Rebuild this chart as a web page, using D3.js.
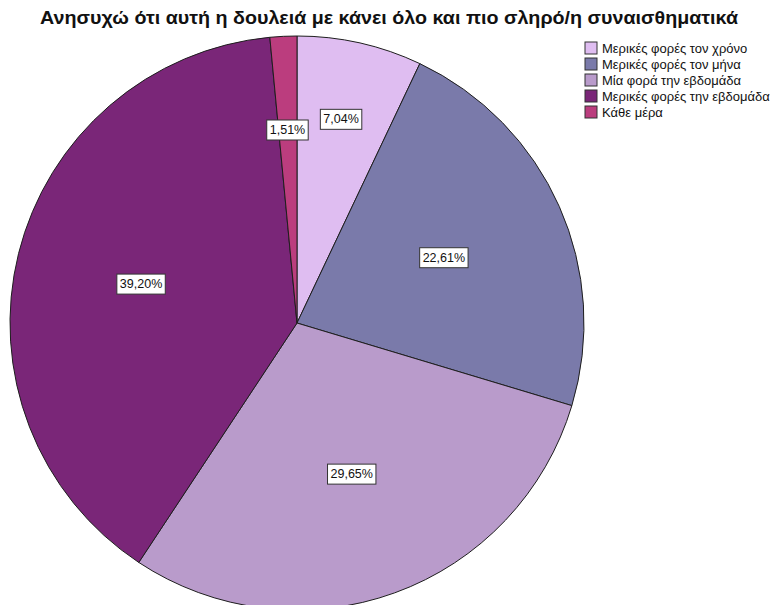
<!DOCTYPE html>
<html>
<head>
<meta charset="utf-8">
<script src="https://cdn.jsdelivr.net/npm/d3@7"></script>
<style>
  html, body { margin: 0; padding: 0; background: #fff; }
  svg { display: block; font-family: "Liberation Sans", Arial, sans-serif; }
</style>
</head>
<body>
<svg id="chart" width="775" height="605"></svg>
<script>
// Response categories, in drawing order (clockwise from 12 o'clock)
const categories = [
  "Μερικές φορές τον χρόνο",
  "Μερικές φορές τον μήνα",
  "Μία φορά την εβδομάδα",
  "Μερικές φορές την εβδομάδα",
  "Κάθε μέρα"
];
// Share of respondents, percent
const percents = [7.04, 22.61, 29.65, 39.20, 1.51];
const colors = ["#dfbdf1", "#7a7aaa", "#b99bcb", "#7a2678", "#bb3d7e"];
const title = "Ανησυχώ ότι αυτή η δουλειά με κάνει όλο και πιο σληρό/η συναισθηματικά";

const svg = d3.select("#chart");
const cx = 297, cy = 323, R = 287;

const data = categories.map((c, i) => ({ cat: c, value: percents[i], color: colors[i] }));

const pie = d3.pie().sort(null).value(d => d.value);
const arcs = pie(data);
const arc = d3.arc().innerRadius(0).outerRadius(R);

const g = svg.append("g").attr("transform", `translate(${cx},${cy})`);

g.selectAll("path.slice")
  .data(arcs)
  .join("path")
  .attr("class", "slice")
  .attr("d", arc)
  .attr("fill", d => d.data.color)
  .attr("stroke", "#1e1e1e")
  .attr("stroke-width", 1)
  .attr("stroke-linejoin", "round");

// Value labels: boxed, placed along each slice's bisector
const fmt = v => v.toFixed(2).replace(".", ",") + "%";
const labels = arcs.map(a => {
  const k = a.data.value < 10 ? 0.70 : 0.56;
  const la = d3.arc().innerRadius(R * k).outerRadius(R * k);
  const [x, y] = la.centroid(a);
  return { x, y, v: a.data.value, text: fmt(a.data.value) };
});

const lg = g.selectAll("g.lab").data(labels).join("g").attr("class", "lab");
lg.append("text")
  .attr("text-anchor", "middle")
  .attr("dominant-baseline", "central")
  .attr("font-size", 12.5)
  .attr("fill", "#111")
  .text(d => d.text);
lg.each(function (d) {
  const t = d3.select(this).select("text").node();
  d.w = t.getComputedTextLength() + 6; d.h = 20;
});
// keep neighbouring labels clear of each other: stagger them vertically
const gap = 20;
for (let i = 0; i < labels.length; i++) {
  for (let j = i + 1; j < labels.length; j++) {
    const a = labels[i], b = labels[j];
    const ox = (a.w + b.w) / 2 + gap - Math.abs(a.x - b.x);
    const oy = (a.h + b.h) / 2 - Math.abs(a.y - b.y);
    if (ox > 0 && oy > 0) {
      const up = a.v >= b.v ? a : b, down = up === a ? b : a;
      up.y -= oy / 2; down.y += oy / 2;
    }
  }
}
lg.attr("transform", d => `translate(${d.x},${d.y})`);
lg.insert("rect", "text")
  .attr("x", d => -d.w / 2).attr("y", d => -d.h / 2)
  .attr("width", d => d.w).attr("height", d => d.h)
  .attr("fill", "#fff").attr("stroke", "#333").attr("stroke-width", 1);

// Title
svg.append("text")
  .attr("x", 389).attr("y", 24)
  .attr("text-anchor", "middle")
  .attr("font-size", 17.5)
  .attr("font-weight", "bold")
  .attr("fill", "#111")
  .attr("textLength", 698)
  .attr("lengthAdjust", "spacingAndGlyphs")
  .text(title);

// Legend
const leg = svg.append("g").attr("transform", "translate(585,42)");
const rows = leg.selectAll("g").data(data).join("g")
  .attr("transform", (d, i) => `translate(0,${i * 16})`);
rows.append("rect")
  .attr("width", 12).attr("height", 12)
  .attr("fill", d => d.color)
  .attr("stroke", "#333").attr("stroke-width", 1);
rows.append("text")
  .attr("x", 17).attr("y", 6.5)
  .attr("dominant-baseline", "central")
  .attr("font-size", 13)
  .attr("fill", "#111")
  .text(d => d.cat);
</script>
</body>
</html>
